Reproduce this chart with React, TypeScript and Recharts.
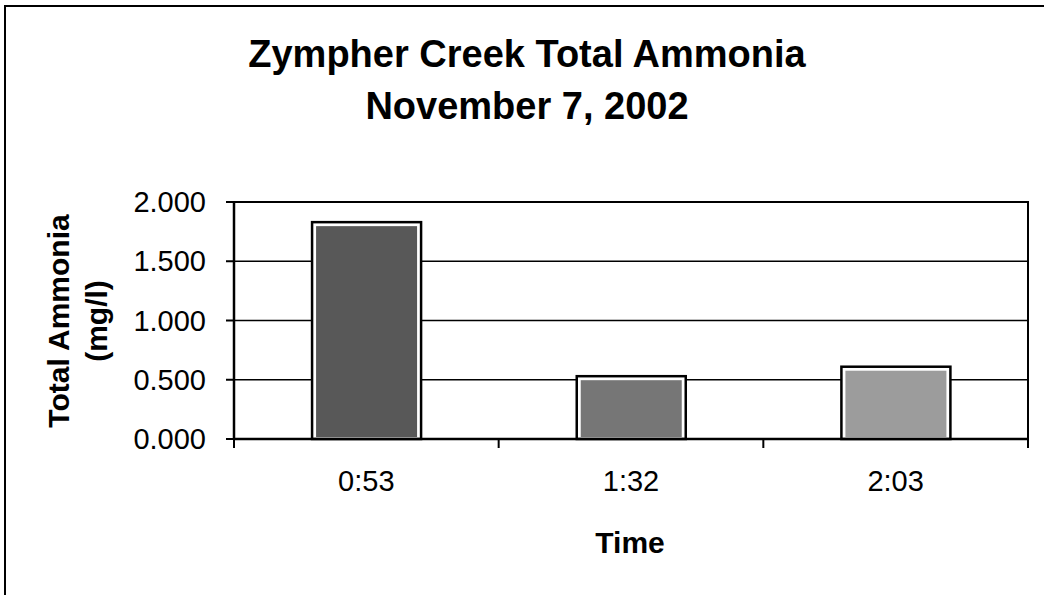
import { BarChart, Bar, XAxis, YAxis, CartesianGrid, ReferenceArea, Cell } from "recharts";

const times = ["0:53", "1:32", "2:03"];
const ammonia = [1.83, 0.53, 0.61];
const barColors = ["#585858", "#767676", "#9c9c9c"];
const yTicks = [0, 0.5, 1, 1.5, 2];

const data = times.map((t, i) => ({ time: t, value: ammonia[i] }));

const FONT = "Arial, 'Liberation Sans', sans-serif";

function XTick(props: any) {
  const { x, y, payload, index, visibleTicksCount } = props;
  const half = payload.offset || 0;
  return (
    <g>
      <line x1={x - half} x2={x - half} y1={y - 8} y2={y + 1} stroke="#000" strokeWidth={2} />
      {index === visibleTicksCount - 1 && (
        <line x1={x + half} x2={x + half} y1={y - 8} y2={y + 1} stroke="#000" strokeWidth={2} />
      )}
      <text x={x} y={y + 44} textAnchor="middle" fontSize={29} fontFamily={FONT} fill="#000">
        {payload.value}
      </text>
    </g>
  );
}

function YTick(props: any) {
  const { x, y, payload } = props;
  return (
    <text x={x - 18} y={y + 10} textAnchor="end" fontSize={29} fontFamily={FONT} fill="#000">
      {payload.value.toFixed(3)}
    </text>
  );
}

function BarShape(props: any) {
  const { x, y, width, height, fill } = props;
  return (
    <g>
      <rect x={x} y={y} width={width} height={height} fill="#fff" stroke="#000" strokeWidth={2.5} />
      <rect x={x + 4} y={y + 4} width={Math.max(0, width - 8)} height={Math.max(0, height - 6)} fill={fill} />
    </g>
  );
}

export default function App() {
  return (
    <div style={{ position: "absolute", left: 0, top: 0, width: 1044, height: 595, background: "#fff", overflow: "hidden" }}>
      <div style={{ position: "absolute", left: 4, top: 5, width: 1040, height: 590, borderLeft: "2px solid #000", borderTop: "2px solid #000" }} />
      <div
        style={{
          position: "absolute",
          left: 5,
          width: 1044,
          top: 28,
          textAlign: "center",
          fontFamily: FONT,
          fontWeight: "bold",
          fontSize: 38,
          lineHeight: "52px",
          color: "#000",
        }}
      >
        Zympher Creek Total Ammonia
        <br />
        November 7, 2002
      </div>
      <div
        style={{
          position: "absolute",
          left: 78,
          top: 321,
          transform: "translate(-50%, -50%) rotate(-90deg)",
          textAlign: "center",
          fontFamily: FONT,
          fontWeight: "bold",
          fontSize: 30,
          lineHeight: "38px",
          whiteSpace: "nowrap",
          color: "#000",
        }}
      >
        Total Ammonia
        <br />
        (mg/l)
      </div>
      <div
        style={{
          position: "absolute",
          left: 630,
          top: 543,
          transform: "translate(-50%, -50%)",
          fontFamily: FONT,
          fontWeight: "bold",
          fontSize: 30,
          color: "#000",
        }}
      >
        Time
      </div>
      <div style={{ position: "absolute", left: 0, top: 0 }}>
        <BarChart width={1044} height={595} data={data} margin={{ top: 202, right: 16, left: 0, bottom: 0 }} barCategoryGap="29.5%">
          <CartesianGrid horizontal vertical={false} stroke="#000" strokeWidth={1.5} />
          <ReferenceArea y1={0} y2={2} fill="none" stroke="#000" strokeWidth={2} />
          <XAxis
            dataKey="time"
            height={156}
            axisLine={{ stroke: "#000", strokeWidth: 2.5 }}
            tickLine={false}
            tick={<XTick />}
            interval={0}
          />
          <YAxis
            width={234}
            domain={[0, 2]}
            ticks={yTicks}
            interval={0}
            axisLine={{ stroke: "#000", strokeWidth: 2.5 }}
            tickLine={{ stroke: "#000", strokeWidth: 2 }}
            tickSize={8}
            tick={<YTick />}
          />
          <Bar dataKey="value" isAnimationActive={false} shape={<BarShape />}>
            {data.map((d, i) => (
              <Cell key={d.time} fill={barColors[i]} />
            ))}
          </Bar>
        </BarChart>
      </div>
    </div>
  );
}
